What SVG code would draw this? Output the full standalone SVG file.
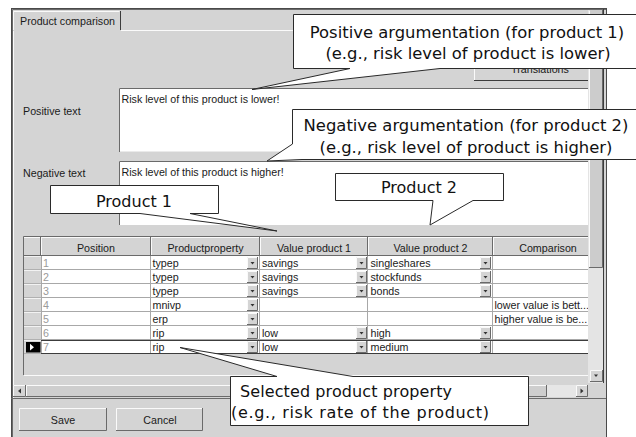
<svg xmlns="http://www.w3.org/2000/svg" width="636" height="437" viewBox="0 0 636 437">
<defs>
<style>
.ui{font-family:"Liberation Sans",Arial,sans-serif;font-size:10.7px;fill:#1a1a1a}
.num{fill:#9a9a9a}
.mid{text-anchor:middle}
.call{font-family:"DejaVu Sans",Verdana,sans-serif;font-size:16px;fill:#111}
.big{font-size:16.4px}
.bubble{fill:#fff;stroke:#2a2a2a;stroke-width:1}
.grid{stroke:#a8a8a8;stroke-width:1;fill:none}
.hi{stroke:#fafafa;stroke-width:1;fill:none}
.sh{stroke:#6a6a6a;stroke-width:1;fill:none}
.dk{stroke:#3c3c3c;stroke-width:1;fill:none}
.gray{fill:#d4d4d4}
</style>
<g id="dd">
  <rect width="11" height="12" fill="#d4d4d4"/>
  <path d="M0.5 12V0.5H11" class="hi"/>
  <path d="M0 11.5H10.5V0" class="sh"/>
  <path d="M3.5 5h4l-2 2.5z" fill="#333"/>
</g>
<g id="rh">
  <rect width="17" height="14" fill="#d4d4d4"/>
  <path d="M0 0.5H17" stroke="#f2f2f2"/>
  <path d="M0 13.5H17" stroke="#b0b0b0"/>
</g>
</defs>

<rect width="636" height="437" fill="#fff"/>

<g id="window">
  <rect x="11.5" y="8.5" width="595" height="440" fill="#d4d4d4" stroke="#4a4a4a"/>
  <path d="M12.5 437V9.5H606" class="sh"/>
  <!-- tab -->
  <path d="M13.5 30V11.5H119.5" class="hi"/>
  <path d="M120.5 11V30" class="dk"/>
  <path d="M121 30.5H588" class="hi"/>
  <path d="M13.5 31V398" class="hi"/>
  <text class="ui" x="20" y="24.5">Product comparison</text>

  <!-- translations button -->
  <g id="btn-translations">
    <rect x="474" y="58" width="114" height="23" fill="#d4d4d4"/>
    <path d="M474.5 81V58.5H588" class="hi"/>
    <path d="M474 80.5H588" class="dk"/>
    <text class="ui mid" x="540" y="73">Translations</text>
  </g>

  <!-- text areas -->
  <g id="positive-text">
    <text class="ui" x="23" y="115">Positive text</text>
    <rect x="119" y="88" width="469" height="64" fill="#fff"/>
    <path d="M119.5 152V88.5H588" class="sh"/>
    <path d="M120 151.5H588" stroke="#eaeaea"/>
    <text class="ui" x="121.5" y="102.5">Risk level of this product is lower!</text>
  </g>
  <g id="negative-text">
    <text class="ui" x="23" y="177">Negative text</text>
    <rect x="119" y="161" width="469" height="64" fill="#fff"/>
    <path d="M119.5 225V161.5H588" class="sh"/>
    <text class="ui" x="121.5" y="175.5">Risk level of this product is higher!</text>
  </g>

  <!-- table -->
  <g id="table">
    <path d="M23.5 375V236.5H588" class="sh"/>
    <path d="M24 375.5H588" class="hi"/>
    <!-- header -->
    <rect x="24" y="237" width="564" height="19" fill="#d4d4d4"/>
    <path d="M24 237.5H588" class="hi"/>
    <path d="M24 255.5H588" class="sh"/>
    <path d="M40.5 237V256M150.5 237V256M259.5 237V256M367.5 237V256M492.5 237V256" class="sh"/>
    <path d="M41.5 238V255M151.5 238V255M260.5 238V255M368.5 238V255M493.5 238V255" class="hi"/>
    <text class="ui mid" x="96" y="251.5">Position</text>
    <text class="ui mid" x="205.5" y="251.5">Productproperty</text>
    <text class="ui mid" x="314" y="251.5">Value product 1</text>
    <text class="ui mid" x="430.5" y="251.5">Value product 2</text>
    <text class="ui mid" x="548" y="251.5">Comparison</text>

    <!-- body -->
    <rect x="41" y="256" width="547" height="98" fill="#fff"/>
    <use href="#rh" x="24" y="256"/>
    <use href="#rh" x="24" y="270"/>
    <use href="#rh" x="24" y="284"/>
    <use href="#rh" x="24" y="298"/>
    <use href="#rh" x="24" y="312"/>
    <use href="#rh" x="24" y="326"/>
    <use href="#rh" x="24" y="340"/>
    <path d="M41 269.5H588M41 283.5H588M41 297.5H588M41 311.5H588M41 325.5H588M41 339.5H588" class="grid"/>
    <path d="M41.5 256V354M150.5 256V354M259.5 256V354M367.5 256V354M492.5 256V354" class="grid"/>
    <path d="M41 340.5H588M41 353.5H588" class="dk"/>
    <rect x="26" y="342" width="14.5" height="10.5" fill="#000"/>
    <path d="M30 343.8V350.6L34 347.2Z" fill="#fff"/>

    <!-- row texts -->
    <g class="ui">
      <text class="num" x="43" y="266.5">1</text>
      <text class="num" x="43" y="280.5">2</text>
      <text class="num" x="43" y="294.5">3</text>
      <text class="num" x="43" y="308.5">4</text>
      <text class="num" x="43" y="322.5">5</text>
      <text class="num" x="43" y="336.5">6</text>
      <text class="num" x="43" y="350.5">7</text>
      <text x="152.5" y="266.5">typep</text>
      <text x="152.5" y="280.5">typep</text>
      <text x="152.5" y="294.5">typep</text>
      <text x="152.5" y="308.5">mnivp</text>
      <text x="152.5" y="322.5">erp</text>
      <text x="152.5" y="336.5">rip</text>
      <text x="152.5" y="350.5">rip</text>
      <text x="262" y="266.5">savings</text>
      <text x="262" y="280.5">savings</text>
      <text x="262" y="294.5">savings</text>
      <text x="262" y="336.5">low</text>
      <text x="262" y="350.5">low</text>
      <text x="370.5" y="266.5">singleshares</text>
      <text x="370.5" y="280.5">stockfunds</text>
      <text x="370.5" y="294.5">bonds</text>
      <text x="370.5" y="336.5">high</text>
      <text x="370.5" y="350.5">medium</text>
      <text x="494.5" y="308.5">lower value is bett...</text>
      <text x="494.5" y="322.5">higher value is be...</text>
    </g>
    <!-- dropdown buttons -->
    <use href="#dd" x="247" y="257"/>
    <use href="#dd" x="247" y="271"/>
    <use href="#dd" x="247" y="285"/>
    <use href="#dd" x="247" y="299"/>
    <use href="#dd" x="247" y="313"/>
    <use href="#dd" x="247" y="327"/>
    <use href="#dd" x="247" y="341"/>
    <use href="#dd" x="356" y="257"/>
    <use href="#dd" x="356" y="271"/>
    <use href="#dd" x="356" y="285"/>
    <use href="#dd" x="356" y="327"/>
    <use href="#dd" x="356" y="341"/>
    <use href="#dd" x="480" y="257"/>
    <use href="#dd" x="480" y="271"/>
    <use href="#dd" x="480" y="285"/>
    <use href="#dd" x="480" y="327"/>
    <use href="#dd" x="480" y="341"/>
  </g>

  <!-- vertical scrollbar -->
  <g id="vscroll">
    <rect x="588" y="10" width="15" height="373" fill="#e4e4e4"/>
    <rect x="589" y="10" width="13" height="258" fill="#cccccc"/>
    <path d="M589.5 268V10.5" class="hi"/>
    <path d="M589 267.5H602.5V10" class="sh"/>
    <path d="M603.5 9V383" class="dk"/>
    <rect x="590" y="370" width="12" height="12" fill="#d4d4d4"/>
    <path d="M590.5 382V370.5H602" class="hi"/>
    <path d="M590 381.5H602.5V370" class="sh"/>
    <path d="M594 374.5h4l-2 2.5z" fill="#333"/>
  </g>

  <!-- horizontal scrollbar -->
  <g id="hscroll">
    <rect x="13" y="385" width="575" height="12" fill="#e6e6e6"/>
    <rect x="13" y="385" width="13" height="12" fill="#d4d4d4"/>
    <path d="M13.5 397V385.5H26" class="hi"/>
    <path d="M13 396.5H25.5V385" class="sh"/>
    <path d="M21 388.5v5l-3-2.5z" fill="#333"/>
    <rect x="26" y="385" width="521" height="12" fill="#cecece"/>
    <path d="M26.5 397V385.5H547" class="hi"/>
    <path d="M26 396.5H546.5V385" class="sh"/>
    <rect x="576" y="385" width="12" height="12" fill="#d4d4d4"/>
    <path d="M576.5 397V385.5H588" class="hi"/>
    <path d="M576 396.5H587.5V385" class="sh"/>
    <path d="M580.5 388.5v5l3-2.5z" fill="#333"/>
    <path d="M11 398.5H606" class="sh"/>
  </g>

  <!-- buttons -->
  <g id="btn-save">
    <rect x="19" y="408" width="88" height="23" fill="#d4d4d4"/>
    <path d="M19.5 431V408.5H107" class="hi"/>
    <path d="M19 430.5H106.5V408" class="sh"/>
    <text class="ui mid" x="63" y="424">Save</text>
  </g>
  <g id="btn-cancel">
    <rect x="116" y="408" width="87" height="23" fill="#d4d4d4"/>
    <path d="M116.5 431V408.5H203" class="hi"/>
    <path d="M116 430.5H202.5V408" class="sh"/>
    <text class="ui mid" x="160" y="424">Cancel</text>
  </g>
  <path d="M606.5 8V437" stroke="#4a4a4a"/>
</g>

<!-- callouts -->
<g id="callout-positive">
  <path class="bubble" d="M640 14.5H293.5V68.5H350L252 89.5L440 68.5H640"/>
  <text class="call big mid" x="467" y="38">Positive argumentation (for product 1)</text>
  <text class="call big mid" x="468" y="59">(e.g., risk level of product is lower)</text>
</g>
<g id="callout-negative">
  <path class="bubble" d="M640 109.5H292.5V144L267 161L302 159.5H640"/>
  <text class="call big mid" x="466" y="131">Negative argumentation (for product 2)</text>
  <text class="call big mid" x="466" y="152.5">(e.g., risk level of product is higher)</text>
</g>
<g id="callout-product1">
  <path class="bubble" d="M50.5 185.5H218.5V213.5H190L277 231L140 213.5H50.5Z"/>
  <text class="call mid" x="134" y="207">Product 1</text>
</g>
<g id="callout-product2">
  <path class="bubble" d="M335.5 173.5H503.5V200.5H473L430 225L433 200.5H335.5Z"/>
  <text class="call mid" x="419" y="193">Product 2</text>
</g>
<g id="callout-property">
  <path class="bubble" d="M230.5 376.5H277L180 347.5L353 376.5H528.5V425.5H230.5Z"/>
  <text class="call" x="240" y="396.5" textLength="212" lengthAdjust="spacing">Selected product property</text>
  <text class="call" x="231" y="418" textLength="258" lengthAdjust="spacing">(e.g., risk rate of the product)</text>
</g>
</svg>
